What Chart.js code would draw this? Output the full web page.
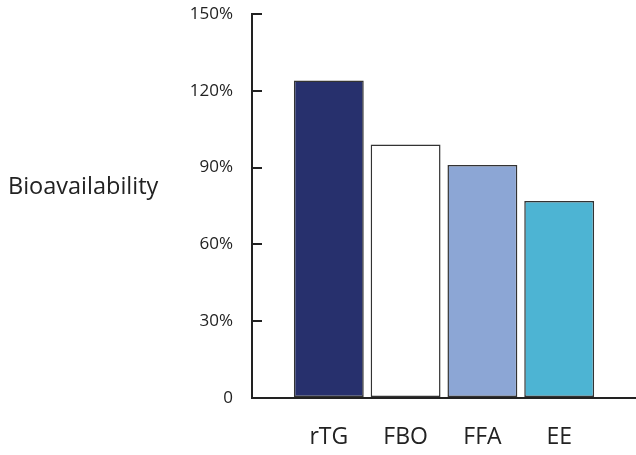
<!DOCTYPE html>
<html>
<head>
<meta charset="utf-8">
<script src="https://cdn.jsdelivr.net/npm/chart.js@4"></script>
<style>
  html, body { margin: 0; padding: 0; background: #fff; }
  #wrap { width: 636px; height: 455px; }
</style>
</head>
<body>
<div id="wrap"><canvas id="myChart"></canvas></div>
<script>
// data
const categories = ['rTG', 'FBO', 'FFA', 'EE'];
const bioavailability = [124, 99, 91, 77];
const barColors = ['#27306d', '#ffffff', '#8ca6d5', '#4db4d3'];
const yTicks = [0, 30, 60, 90, 120, 150];

// empty slot on each side so the bars sit one step in from the axis
const labels = [''].concat(categories, ['']);
const values = [null].concat(bioavailability, [null]);
const colors = ['#fff'].concat(barColors, ['#fff']);

const fontFam = '"Open Sans", "Noto Sans", sans-serif';

// horizontal axis title on the left
const sideTitle = {
    id: 'sideTitle',
    afterDraw(chart) {
        const c = chart.ctx;
        c.save();
        c.font = '23.5px ' + fontFam;
        c.fillStyle = '#222';
        c.textAlign = 'left';
        c.textBaseline = 'middle';
        c.fillText('Bioavailability', 8, 187);
        c.restore();
    }
};

// kill the extra label padding chart.js adds around the chart area
function noPad(s) {
    s.paddingTop = 0;
    s.paddingBottom = 0;
    s.paddingLeft = 0;
    s.paddingRight = 0;
}

const ctx = document.getElementById('myChart');
new Chart(ctx, {
    type: 'bar',
    data: {
        labels: labels,
        datasets: [{
            label: 'Bioavailability',
            data: values,
            backgroundColor: colors,
            borderColor: '#333',
            borderWidth: 1.5,
            borderSkipped: false,
            categoryPercentage: 1,
            barPercentage: 0.91
        }]
    },
    options: {
        responsive: true,
        maintainAspectRatio: false,
        animation: false,
        layout: { padding: { top: 14, right: 0, left: 0, bottom: 0 } },
        plugins: {
            legend: { display: false },
            tooltip: { enabled: false }
        },
        scales: {
            x: {
                offset: false,
                afterFit: (s) => { s.height = 57; noPad(s); },
                grid: { display: false, drawTicks: false },
                border: { display: true, color: '#222', width: 2 },
                ticks: {
                    color: '#222',
                    padding: 26,
                    maxRotation: 0,
                    autoSkip: false,
                    font: { family: fontFam, size: 23 }
                }
            },
            y: {
                min: 0,
                max: 150,
                afterFit: (s) => { s.width = 252; noPad(s); },
                afterBuildTicks: (s) => { s.ticks = yTicks.map(v => ({ value: v })); },
                grid: {
                    drawOnChartArea: false,
                    drawTicks: true,
                    tickLength: -10,
                    tickColor: '#222',
                    lineWidth: 2
                },
                border: { display: true, color: '#222', width: 2 },
                ticks: {
                    color: '#222',
                    padding: 29,
                    font: { family: fontFam, size: 17 },
                    callback: (v) => v === 0 ? '0' : v + '%'
                }
            }
        }
    },
    plugins: [sideTitle]
});
</script>
</body>
</html>
